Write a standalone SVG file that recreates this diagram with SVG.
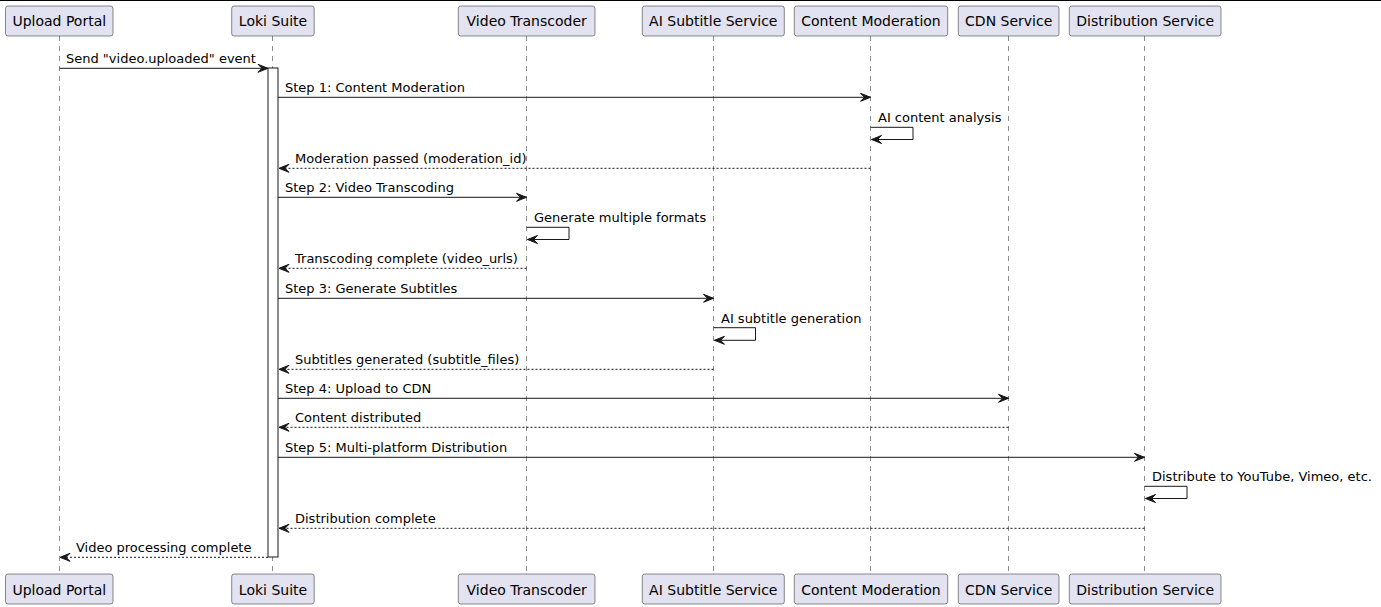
<svg xmlns="http://www.w3.org/2000/svg" width="1381" height="607" viewBox="0 0 1381 607">
<defs>
<style>
.box{fill:#E2E2F0;stroke:#181818;stroke-width:0.5}
.pt{font-family:"DejaVu Sans",sans-serif;font-size:14px;fill:#000;text-anchor:middle}
.life{stroke:#181818;stroke-width:0.5;stroke-dasharray:5,5;fill:none}
.act{fill:#FFFFFF;stroke:#181818;stroke-width:1}
.msg{stroke:#181818;stroke-width:1;fill:none;marker-end:url(#ah)}
.ret{stroke:#181818;stroke-width:1;fill:none;stroke-dasharray:2,2;marker-end:url(#ah)}
.mt{font-family:"DejaVu Sans",sans-serif;font-size:13px;fill:#000}
</style>
<marker id="ah" viewBox="-1 -1 12 10" refX="10" refY="4" markerWidth="12" markerHeight="10" markerUnits="userSpaceOnUse" orient="auto">
<path d="M0,0 L10,4 L0,8 L4,4 Z" fill="#181818" stroke="#181818" stroke-width="1" stroke-linejoin="miter"/>
</marker>
</defs>
<rect width="1381" height="607" fill="#FFFFFF"/>
<line x1="0" y1="0.5" x2="1381" y2="0.5" stroke="#000" stroke-width="1"/>

<g id="lifelines">
<line class="life" x1="59.5" y1="36" x2="59.5" y2="574"/>
<line class="life" x1="272.5" y1="36" x2="272.5" y2="574"/>
<line class="life" x1="526.5" y1="36" x2="526.5" y2="574"/>
<line class="life" x1="713.5" y1="36" x2="713.5" y2="574"/>
<line class="life" x1="870.5" y1="36" x2="870.5" y2="574"/>
<line class="life" x1="1008.5" y1="36" x2="1008.5" y2="574"/>
<line class="life" x1="1144.5" y1="36" x2="1144.5" y2="574"/>
</g>

<g id="upload-portal">
<rect class="box" x="5.5" y="6" width="107.5" height="30" rx="2.5"/>
<text class="pt" x="59.3" y="26">Upload Portal</text>
<rect class="box" x="5.5" y="574" width="107.5" height="30" rx="2.5"/>
<text class="pt" x="59.3" y="594.5">Upload Portal</text>
</g>
<g id="loki-suite">
<rect class="box" x="231.7" y="6" width="82.5" height="30" rx="2.5"/>
<text class="pt" x="273" y="26">Loki Suite</text>
<rect class="box" x="231.7" y="574" width="82.5" height="30" rx="2.5"/>
<text class="pt" x="273" y="594.5">Loki Suite</text>
<rect class="act" x="268" y="68" width="10" height="489"/>
</g>
<g id="video-transcoder">
<rect class="box" x="458.3" y="6" width="136.7" height="30" rx="2.5"/>
<text class="pt" x="526.7" y="26">Video Transcoder</text>
<rect class="box" x="458.3" y="574" width="136.7" height="30" rx="2.5"/>
<text class="pt" x="526.7" y="594.5">Video Transcoder</text>
</g>
<g id="ai-subtitle-service">
<rect class="box" x="642.3" y="6" width="142" height="30" rx="2.5"/>
<text class="pt" x="713.3" y="26">AI Subtitle Service</text>
<rect class="box" x="642.3" y="574" width="142" height="30" rx="2.5"/>
<text class="pt" x="713.3" y="594.5">AI Subtitle Service</text>
</g>
<g id="content-moderation">
<rect class="box" x="794.3" y="6" width="153.4" height="30" rx="2.5"/>
<text class="pt" x="871" y="26">Content Moderation</text>
<rect class="box" x="794.3" y="574" width="153.4" height="30" rx="2.5"/>
<text class="pt" x="871" y="594.5">Content Moderation</text>
</g>
<g id="cdn-service">
<rect class="box" x="958.3" y="6" width="100.7" height="30" rx="2.5"/>
<text class="pt" x="1008.7" y="26">CDN Service</text>
<rect class="box" x="958.3" y="574" width="100.7" height="30" rx="2.5"/>
<text class="pt" x="1008.7" y="594.5">CDN Service</text>
</g>
<g id="distribution-service">
<rect class="box" x="1069.3" y="6" width="151.7" height="30" rx="2.5"/>
<text class="pt" x="1145.2" y="26">Distribution Service</text>
<rect class="box" x="1069.3" y="574" width="151.7" height="30" rx="2.5"/>
<text class="pt" x="1145.2" y="594.5">Distribution Service</text>
</g>

<g id="connectors">
<path class="msg" d="M59.5,68.3 H268"/>
<text class="mt" x="66" y="63.3">Send "video.uploaded" event</text>

<path class="msg" d="M278,97.3 H870.5"/>
<text class="mt" x="285" y="92.3">Step 1: Content Moderation</text>

<path class="msg" d="M870.5,127.3 H913 V139.5 H871.5"/>
<text class="mt" x="878" y="122.3">AI content analysis</text>

<path class="ret" d="M870.5,168.3 H279"/>
<text class="mt" x="295" y="163.3">Moderation passed (moderation_id)</text>

<path class="msg" d="M278,197.3 H526.5"/>
<text class="mt" x="285" y="192.3">Step 2: Video Transcoding</text>

<path class="msg" d="M526.5,227.3 H569 V239.5 H527.5"/>
<text class="mt" x="534" y="222.3">Generate multiple formats</text>

<path class="ret" d="M526.5,268.3 H279"/>
<text class="mt" x="295" y="263.3">Transcoding complete (video_urls)</text>

<path class="msg" d="M278,298.3 H713.5"/>
<text class="mt" x="285" y="293.3">Step 3: Generate Subtitles</text>

<path class="msg" d="M713.5,327.7 H755.5 V340.3 H714.5"/>
<text class="mt" x="721" y="322.7">AI subtitle generation</text>

<path class="ret" d="M713.5,369.3 H279"/>
<text class="mt" x="295" y="364.3">Subtitles generated (subtitle_files)</text>

<path class="msg" d="M278,398.3 H1008.5"/>
<text class="mt" x="285" y="393.3">Step 4: Upload to CDN</text>

<path class="ret" d="M1008.5,427.3 H279"/>
<text class="mt" x="295" y="422.3">Content distributed</text>

<path class="msg" d="M278,457.3 H1144.5"/>
<text class="mt" x="285" y="452.3">Step 5: Multi-platform Distribution</text>

<path class="msg" d="M1144.5,486.3 H1187 V498.5 H1145.5"/>
<text class="mt" x="1152" y="481.3">Distribute to YouTube, Vimeo, etc.</text>

<path class="ret" d="M1144.5,528.3 H279"/>
<text class="mt" x="295" y="523.3">Distribution complete</text>

<path class="ret" d="M268,557.3 H60"/>
<text class="mt" x="76" y="552.3">Video processing complete</text>
</g>
</svg>
